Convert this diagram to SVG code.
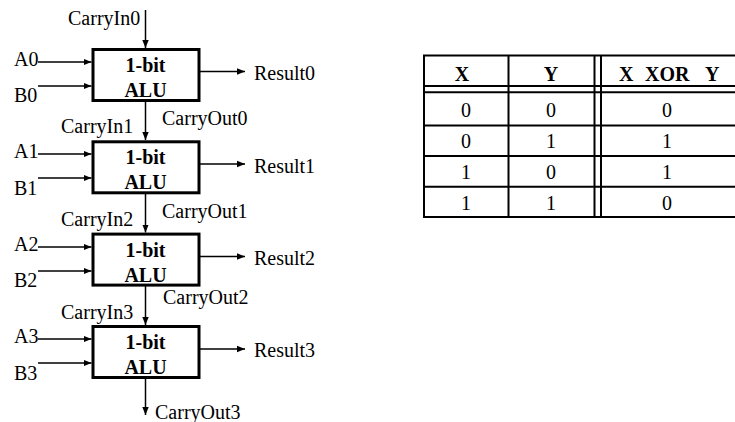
<svg xmlns="http://www.w3.org/2000/svg" width="735" height="422" viewBox="0 0 735 422">
<defs>
<style>
.t{font-family:"Liberation Serif","Times New Roman",serif;font-size:20px;fill:#000}
.b{font-weight:bold}
.m{text-anchor:middle}
.box{fill:#fff;stroke:#000;stroke-width:3}
.w{stroke:#000;stroke-width:1.5;fill:none}
.tl{stroke:#000;stroke-width:2;fill:none}
</style>
<marker id="ah" markerWidth="8" markerHeight="8" refX="8" refY="4" orient="auto" markerUnits="userSpaceOnUse">
<path d="M0,0.8 L8,4 L0,7.2 Z" fill="#000"/>
</marker>
</defs>
<rect width="735" height="422" fill="#fff"/>
<g id="connectors">
<line class="w" x1="145.5" y1="10" x2="145.5" y2="48" marker-end="url(#ah)"/>
<line class="w" x1="145.5" y1="101" x2="145.5" y2="140" marker-end="url(#ah)"/>
<line class="w" x1="145.5" y1="193" x2="145.5" y2="232.5" marker-end="url(#ah)"/>
<line class="w" x1="145.5" y1="285.5" x2="145.5" y2="325" marker-end="url(#ah)"/>
<line class="w" x1="145.5" y1="378" x2="145.5" y2="415" marker-end="url(#ah)"/>
<line class="w" x1="38" y1="62" x2="91.5" y2="62" marker-end="url(#ah)"/>
<line class="w" x1="38" y1="86" x2="91.5" y2="86" marker-end="url(#ah)"/>
<line class="w" x1="38" y1="154" x2="91.5" y2="154" marker-end="url(#ah)"/>
<line class="w" x1="38" y1="178" x2="91.5" y2="178" marker-end="url(#ah)"/>
<line class="w" x1="38" y1="247" x2="91.5" y2="247" marker-end="url(#ah)"/>
<line class="w" x1="38" y1="271" x2="91.5" y2="271" marker-end="url(#ah)"/>
<line class="w" x1="38" y1="339" x2="91.5" y2="339" marker-end="url(#ah)"/>
<line class="w" x1="38" y1="363" x2="91.5" y2="363" marker-end="url(#ah)"/>
<line class="w" x1="200" y1="71.5" x2="245" y2="71.5" marker-end="url(#ah)"/>
<line class="w" x1="200" y1="164" x2="245" y2="164" marker-end="url(#ah)"/>
<line class="w" x1="200" y1="256.5" x2="245" y2="256.5" marker-end="url(#ah)"/>
<line class="w" x1="200" y1="349" x2="245" y2="349" marker-end="url(#ah)"/>
</g>
<g id="alu0">
<rect class="box" x="93" y="49.5" width="106" height="51"/>
<text class="t b m" x="145.5" y="72">1-bit</text>
<text class="t b m" x="145.5" y="97">ALU</text>
</g>
<g id="alu1">
<rect class="box" x="93" y="141.8" width="106" height="51"/>
<text class="t b m" x="145.5" y="164.3">1-bit</text>
<text class="t b m" x="145.5" y="189.3">ALU</text>
</g>
<g id="alu2">
<rect class="box" x="93" y="234.1" width="106" height="51"/>
<text class="t b m" x="145.5" y="256.6">1-bit</text>
<text class="t b m" x="145.5" y="281.6">ALU</text>
</g>
<g id="alu3">
<rect class="box" x="93" y="326.5" width="106" height="51"/>
<text class="t b m" x="145.5" y="349">1-bit</text>
<text class="t b m" x="145.5" y="374">ALU</text>
</g>
<g id="labels">
<text class="t" x="68" y="25">CarryIn0</text>
<text class="t" x="14" y="65.5">A0</text>
<text class="t" x="14" y="102">B0</text>
<text class="t" x="254" y="80">Result0</text>
<text class="t" x="162" y="125">CarryOut0</text>
<text class="t" x="61" y="133">CarryIn1</text>
<text class="t" x="14" y="158">A1</text>
<text class="t" x="14" y="194.5">B1</text>
<text class="t" x="254" y="172.5">Result1</text>
<text class="t" x="162" y="218">CarryOut1</text>
<text class="t" x="61" y="226">CarryIn2</text>
<text class="t" x="14" y="250.5">A2</text>
<text class="t" x="14" y="287">B2</text>
<text class="t" x="254" y="265">Result2</text>
<text class="t" x="163" y="303.5">CarryOut2</text>
<text class="t" x="61" y="318.5">CarryIn3</text>
<text class="t" x="14" y="343">A3</text>
<text class="t" x="14" y="379.5">B3</text>
<text class="t" x="254" y="357">Result3</text>
<text class="t" x="155" y="419">CarryOut3</text>
</g>
<g id="truth-table">
<rect class="tl" x="424" y="55.5" width="313" height="161.5"/>
<line class="tl" x1="424" y1="86" x2="737" y2="86"/>
<line class="tl" x1="424" y1="92.3" x2="737" y2="92.3"/>
<line class="tl" x1="424" y1="125.5" x2="737" y2="125.5"/>
<line class="tl" x1="424" y1="156" x2="737" y2="156"/>
<line class="tl" x1="424" y1="186.8" x2="737" y2="186.8"/>
<line class="tl" x1="508.5" y1="55.5" x2="508.5" y2="217"/>
<line class="tl" x1="594.5" y1="55.5" x2="594.5" y2="217"/>
<line class="tl" x1="601" y1="55.5" x2="601" y2="217"/>
<text class="t b m" x="462" y="80.5">X</text>
<text class="t b m" x="551" y="80.5">Y</text>
<text class="t b" x="619" y="80.5">X</text>
<text class="t b" x="645" y="80.5">XOR</text>
<text class="t b" x="705" y="80.5">Y</text>
<text class="t m" x="466" y="116.5">0</text>
<text class="t m" x="551" y="116.5">0</text>
<text class="t m" x="667" y="116.5">0</text>
<text class="t m" x="466" y="148">0</text>
<text class="t m" x="551" y="148">1</text>
<text class="t m" x="667" y="148">1</text>
<text class="t m" x="466" y="179">1</text>
<text class="t m" x="551" y="179">0</text>
<text class="t m" x="667" y="179">1</text>
<text class="t m" x="466" y="209.5">1</text>
<text class="t m" x="551" y="209.5">1</text>
<text class="t m" x="667" y="209.5">0</text>
</g>
</svg>
